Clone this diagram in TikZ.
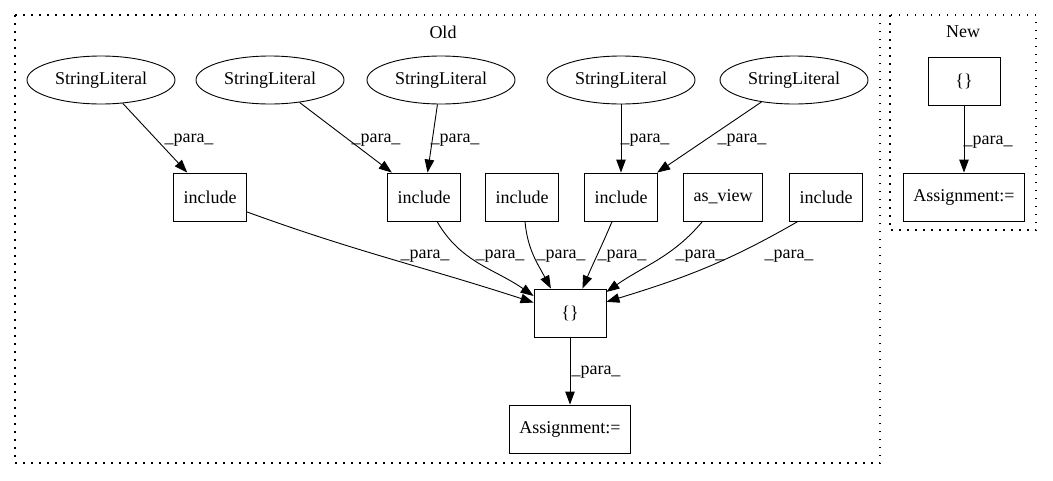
\documentclass[tikz,border=0pt]{standalone}
\usepackage{fontspec}
\setmainfont{Liberation Serif}
\usetikzlibrary{arrows.meta, shapes.geometric}

\tikzset{
  lit/.style={draw, ellipse, minimum width=148pt, minimum height=48pt, inner sep=0pt},
  fn/.style={draw, rectangle, minimum width=72pt, minimum height=48pt, inner xsep=10pt},
  lbl/.style={inner sep=0pt},
  cluster/.style={draw, line width=1.2pt, dash pattern=on 1.5pt off 6.5pt},
}

\begin{document}
\begin{tikzpicture}[x=1pt, y=1pt, font=\fontsize{18}{21}\selectfont, line width=0.9pt, >={Triangle[length=13pt,width=9.5pt]}]
\useasboundingbox (0,0) rectangle (1053,-480);

%Clusters:
\draw [cluster] (15,-15) rectangle (880,-463);
\draw [cluster] (890,-15) rectangle (1036,-230);
\node (old) at (443,-32) {Old};
\node (new) at (963,-32) {New};

\node (sl1) [lit] at (101,-80) {StringLiteral};
\node (sl2) [lit] at (270,-80) {StringLiteral};
\node (sl3) [lit] at (441,-80) {StringLiteral};
\node (sl4) [lit] at (621,-80) {StringLiteral};
\node (sl5) [lit] at (794,-80) {StringLiteral};
\node (inc1) [fn] at (210,-197) {include};
\node (inc2) [fn] at (424,-197) {include};
\node (inc3) [fn] at (522,-197) {include};
\node (inc4) [fn] at (621,-197) {include};
\node (view) [fn] at (723,-197) {as\_view};
\node (inc5) [fn] at (826,-197) {include};
\node (br) [fn] at (570,-313) {\{\}};
\node (asg) [fn] at (570,-429) {Assignment:=};
\node (nbr) [fn] at (964,-81) {\{\}};
\node (nasg) [fn] at (964,-197) {Assignment:=};

%Old:
\path [->]
(sl1) edge (inc1)
(sl2) edge (inc2)
(sl3) edge (inc2)
(sl4) edge (inc4)
(sl5) edge (inc4)
(inc1.-22) edge [out=-20, in=162] (br.164)
(inc2.-62) edge [out=-60, in=145] (br.155)
(inc3.-83) edge [out=-85, in=118] (br.128)
(inc4.-110) edge [out=-113, in=67] (br.63)
(view.-130) edge [out=-130, in=35] (br.30)
(inc5.-139) edge [out=-150, in=17] (br.17)
(br) edge (asg)
;
%New:
\path [->] (nbr) edge (nasg);

%Labels:
\node (p1) [lbl] at (189,-140) {\_para\_};
\node (p2) [lbl] at (376,-140) {\_para\_};
\node (p3) [lbl] at (455,-140) {\_para\_};
\node (p4) [lbl] at (645,-140) {\_para\_};
\node (p5) [lbl] at (742,-140) {\_para\_};
\node (p6) [lbl] at (425,-256) {\_para\_};
\node (p7) [lbl] at (500,-256) {\_para\_};
\node (p8) [lbl] at (561,-256) {\_para\_};
\node (p9) [lbl] at (622,-256) {\_para\_};
\node (p10) [lbl] at (700,-256) {\_para\_};
\node (p11) [lbl] at (789,-256) {\_para\_};
\node (p12) [lbl] at (596,-372) {\_para\_};
\node (p13) [lbl] at (988,-142) {\_para\_};

\end{tikzpicture}
\end{document}
